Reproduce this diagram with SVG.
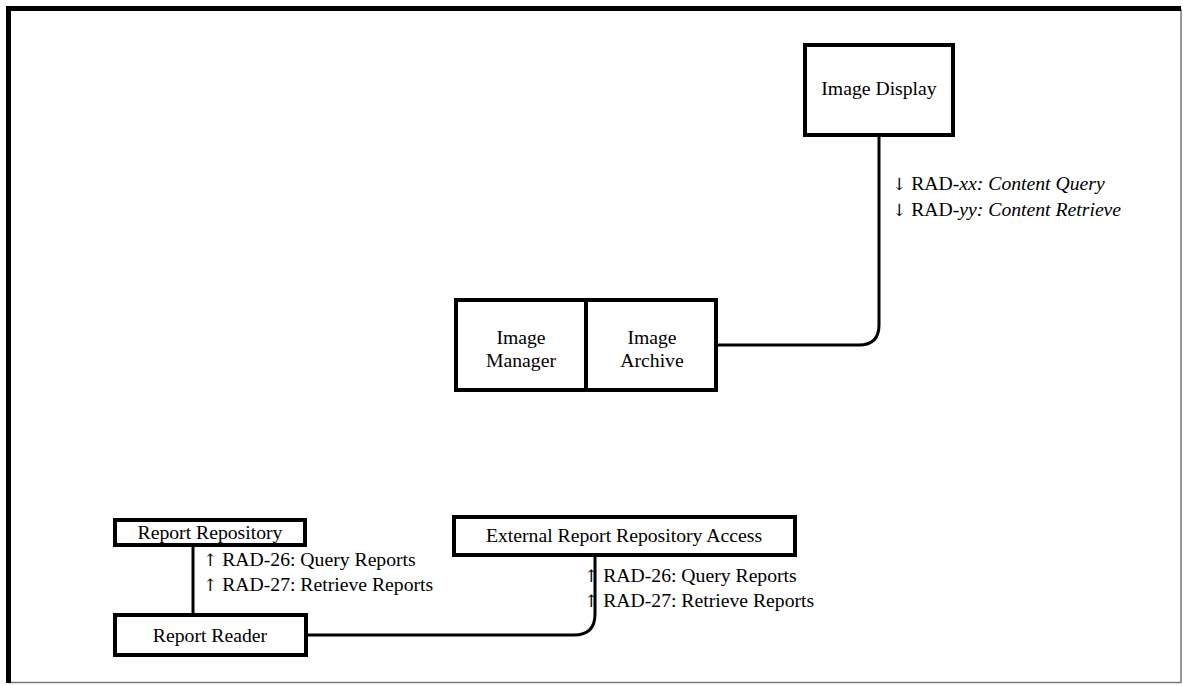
<svg xmlns="http://www.w3.org/2000/svg" width="1183" height="686" viewBox="0 0 1183 686">
<style>
.box{fill:#fff;stroke:#000;stroke-width:4}
.t{font-family:"Liberation Serif","Times New Roman",serif;font-size:19.7px;fill:#000}
.c{text-anchor:middle}
.i{font-style:italic}
.a{font-family:"DejaVu Serif","Liberation Serif",serif;font-size:17px}
.wire{fill:none;stroke:#000;stroke-width:3}
</style>
<rect x="0" y="0" width="1183" height="686" fill="#fff"/>
<g id="frame">
<path d="M1181,9 V682.5 H8.5" fill="none" stroke="#777" stroke-width="1.5"/>
<path d="M8.5,683 V8.5 H1181" fill="none" stroke="#000" stroke-width="5"/>
</g>
<g id="connectors">
<path class="wire" d="M879,137 V325 Q879,345 859,345 H718"/>
<path class="wire" d="M193,546 V613"/>
<path class="wire" d="M308,635 H574 Q595,635 595,614 V557"/>
</g>
<g id="image-display">
<rect class="box" x="805" y="45" width="148" height="90"/>
<text class="t c" x="879" y="94.5">Image Display</text>
</g>
<g id="image-manager">
<rect class="box" x="456" y="300" width="130" height="90"/>
<text class="t c" x="521" y="344">Image</text>
<text class="t c" x="521" y="367">Manager</text>
</g>
<g id="image-archive">
<rect class="box" x="586" y="300" width="130" height="90"/>
<text class="t c" x="652" y="344">Image</text>
<text class="t c" x="652" y="367">Archive</text>
</g>
<g id="report-repository">
<rect class="box" x="115" y="520" width="190" height="25"/>
<text class="t c" x="210" y="538.5">Report Repository</text>
</g>
<g id="report-reader">
<rect class="box" x="115" y="615" width="191" height="40"/>
<text class="t c" x="210" y="642">Report Reader</text>
</g>
<g id="external-report-repository-access">
<rect class="box" x="454" y="517" width="341" height="38"/>
<text class="t c" x="624" y="542">External Report Repository Access</text>
</g>
<g id="labels">
<text class="t" x="892" y="190"><tspan class="a">↓</tspan> RAD-<tspan class="i">xx: Content Query</tspan></text>
<text class="t" x="892" y="216"><tspan class="a">↓</tspan> RAD-<tspan class="i">yy: Content Retrieve</tspan></text>
<text class="t" x="203" y="566"><tspan class="a">↑</tspan> RAD-26: Query Reports</text>
<text class="t" x="203" y="591"><tspan class="a">↑</tspan> RAD-27: Retrieve Reports</text>
<text class="t" x="584" y="582"><tspan class="a">↑</tspan> RAD-26: Query Reports</text>
<text class="t" x="584" y="607"><tspan class="a">↑</tspan> RAD-27: Retrieve Reports</text>
</g>
</svg>
